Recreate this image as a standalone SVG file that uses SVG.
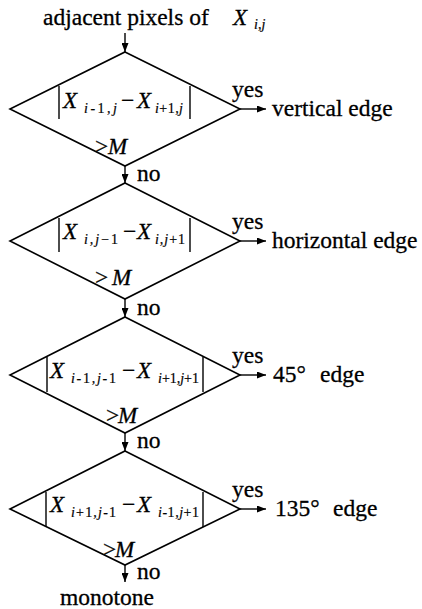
<svg xmlns="http://www.w3.org/2000/svg" width="422" height="609" viewBox="0 0 422 609" font-family="'Liberation Serif', 'DejaVu Serif', serif">
<style>
text{font-family:'Liberation Serif','DejaVu Serif',serif;fill:#000;stroke:#000;stroke-width:0.3}
.t{font-size:23.5px}
.x{font-size:23px;font-style:italic}
.s{font-size:14px;stroke-width:0.2}
.i{font-style:italic}
.d{fill:#fff;stroke:#000;stroke-width:1.6}
.b{stroke:#000;stroke-width:1.4}
.c{stroke:#000;stroke-width:1.4;fill:none;marker-end:url(#ah)}
</style>
<defs>
<marker id="ah" markerWidth="9" markerHeight="7" refX="9" refY="3.5" orient="auto" markerUnits="userSpaceOnUse"><path d="M0,0 L9,3.5 L0,7 Z" fill="#000"/></marker>
</defs>
<g id="title">
<text class="t" x="43" y="25">adjacent pixels of</text>
<text class="x" x="233" y="25">X</text>
<text class="s" x="254" y="29"><tspan class="i">i</tspan>,<tspan class="i">j</tspan></text>
</g>
<g id="connectors">
<line class="c" x1="125" y1="33" x2="125" y2="52"/>
<line class="c" x1="125" y1="166" x2="125" y2="183"/>
<line class="c" x1="125" y1="299" x2="125" y2="317"/>
<line class="c" x1="125" y1="433" x2="125" y2="451"/>
<line class="c" x1="125" y1="565" x2="125" y2="582"/>
<line class="c" x1="240" y1="109" x2="266" y2="109"/>
<line class="c" x1="240" y1="241" x2="266" y2="241"/>
<line class="c" x1="240" y1="375" x2="266" y2="375"/>
<line class="c" x1="240" y1="509" x2="266" y2="509"/>
<text class="t" x="232" y="97">yes</text>
<text class="t" x="232" y="229">yes</text>
<text class="t" x="232" y="363">yes</text>
<text class="t" x="232" y="497">yes</text>
<text class="t" x="137" y="181">no</text>
<text class="t" x="137" y="315">no</text>
<text class="t" x="137" y="448">no</text>
<text class="t" x="137" y="579">no</text>
</g>
<g id="d1">
<polygon class="d" points="125,52 240,109 125,166 10,109"/>
<line class="b" x1="59" y1="86" x2="59" y2="119"/>
<line class="b" x1="190" y1="86" x2="190" y2="119"/>
<text class="x" x="63" y="108">X</text>
<text class="s" x="84" y="113" textLength="33" lengthAdjust="spacing"><tspan class="i">i</tspan>-1,<tspan class="i">j</tspan></text>
<text class="t" x="121" y="108">−</text>
<text class="x" x="137" y="108">X</text>
<text class="s" x="155" y="113" textLength="28" lengthAdjust="spacing"><tspan class="i">i</tspan>+1,<tspan class="i">j</tspan></text>
<text class="t" x="95" y="154">&gt;</text>
<text class="x" x="108" y="154">M</text>
</g>
<g id="d2">
<polygon class="d" points="125,183 240,241 125,299 10,241"/>
<line class="b" x1="59" y1="218" x2="59" y2="252"/>
<line class="b" x1="190" y1="218" x2="190" y2="252"/>
<text class="x" x="63" y="239">X</text>
<text class="s" x="84" y="244" textLength="34" lengthAdjust="spacing"><tspan class="i">i</tspan>,<tspan class="i">j</tspan>−1</text>
<text class="t" x="123" y="239">−</text>
<text class="x" x="137" y="239">X</text>
<text class="s" x="155" y="244" textLength="30" lengthAdjust="spacing"><tspan class="i">i</tspan>,<tspan class="i">j</tspan>+1</text>
<text class="t" x="95" y="285">&gt;</text>
<text class="x" x="112" y="285">M</text>
</g>
<g id="d3">
<polygon class="d" points="125,317 240,375 125,433 10,375"/>
<line class="b" x1="47" y1="357" x2="47" y2="392"/>
<line class="b" x1="203" y1="357" x2="203" y2="392"/>
<text class="x" x="50" y="378">X</text>
<text class="s" x="71" y="383" textLength="45" lengthAdjust="spacing"><tspan class="i">i</tspan>-1,<tspan class="i">j</tspan>-1</text>
<text class="t" x="122" y="378">−</text>
<text class="x" x="137" y="378">X</text>
<text class="s" x="158" y="383" textLength="41" lengthAdjust="spacing"><tspan class="i">i</tspan>+1,<tspan class="i">j</tspan>+1</text>
<text class="t" x="106" y="423">&gt;</text>
<text class="x" x="118" y="423">M</text>
</g>
<g id="d4">
<polygon class="d" points="125,451 240,509 125,565 10,509"/>
<line class="b" x1="46" y1="492" x2="46" y2="527"/>
<line class="b" x1="203" y1="492" x2="203" y2="527"/>
<text class="x" x="50" y="512">X</text>
<text class="s" x="71" y="517" textLength="45" lengthAdjust="spacing"><tspan class="i">i</tspan>+1,<tspan class="i">j</tspan>-1</text>
<text class="t" x="122" y="512">−</text>
<text class="x" x="137" y="512">X</text>
<text class="s" x="158" y="517" textLength="41" lengthAdjust="spacing"><tspan class="i">i</tspan>-1,<tspan class="i">j</tspan>+1</text>
<text class="t" x="103" y="557">&gt;</text>
<text class="x" x="115" y="557">M</text>
</g>
<g id="outputs">
<text class="t" x="272" y="116">vertical edge</text>
<text class="t" x="272" y="248">horizontal edge</text>
<text class="t" x="273" y="382">45°</text>
<text class="t" x="320" y="382">edge</text>
<text class="t" x="275" y="516">135°</text>
<text class="t" x="333" y="516">edge</text>
<text class="t" x="60" y="605">monotone</text>
</g>
</svg>
